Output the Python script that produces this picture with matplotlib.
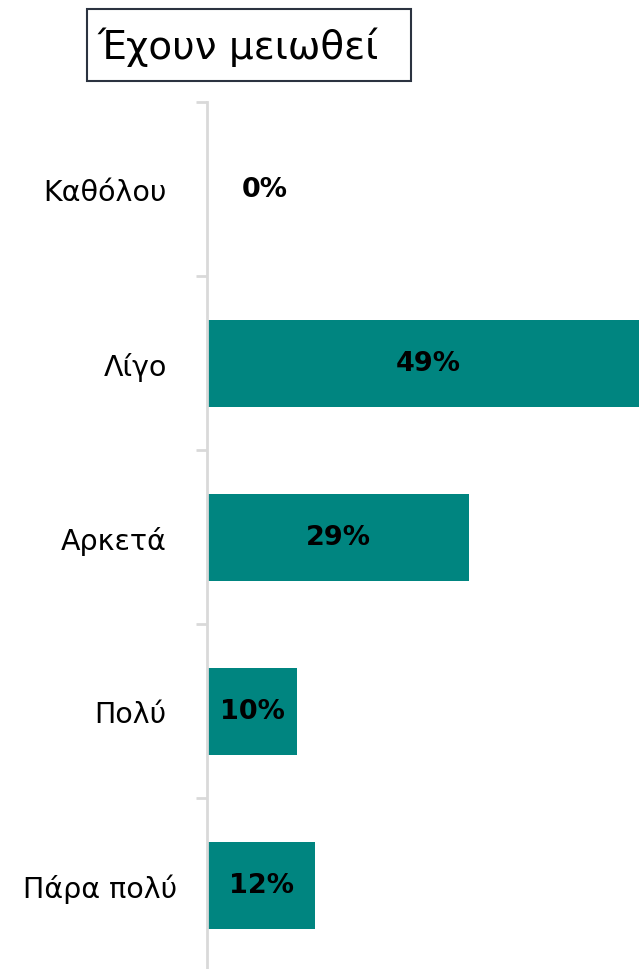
import matplotlib.pyplot as plt
from matplotlib.patches import Rectangle
from matplotlib.transforms import ScaledTranslation
import numpy as np

# dữ liệu
categories = ['Καθόλου', 'Λίγο', 'Αρκετά', 'Πολύ', 'Πάρα πολύ']
values = [0, 49, 29, 10, 12]
value_labels = ['0%', '49%', '29%', '10%', '12%']
title = 'Έχουν μειωθεί'

plt.rcParams['font.family'] = ['DejaVu Sans']

fig = plt.figure(figsize=(6.39, 9.70), dpi=100)
ax = fig.add_axes([207 / 639, -3 / 970, 432 / 639, 870 / 970])

y = np.arange(len(categories))
ax.barh(y, values, height=0.5, color='#008580')
ax.set_ylim(len(categories) - 0.5, -0.5)
ax.set_xlim(0, 47.8)

for i, (v, lab) in enumerate(zip(values, value_labels)):
    xpos = v / 2 if v > 0 else 6.4
    ax.text(xpos, i, lab, ha='center', va='center', fontsize=19.5,
            fontweight='bold', color='black')

# trục
for s in ['top', 'right', 'bottom']:
    ax.spines[s].set_visible(False)
ax.spines['left'].set_color('#D9D9D9')
ax.spines['left'].set_linewidth(2)
ax.set_xticks([])
ax.set_yticks(y)
ax.set_yticklabels(categories, fontsize=20.5)
ax.tick_params(axis='y', which='major', length=0, pad=29)
ax.set_yticks(np.arange(-0.5, len(categories)), minor=True)
ax.tick_params(axis='y', which='minor', length=8, width=2, color='#D9D9D9')

# nhãn cuối lệch phải một chút như bản gốc
last = ax.get_yticklabels()[-1]
last.set_transform(last.get_transform() + ScaledTranslation(0.1, 0, fig.dpi_scale_trans))

# tiêu đề trong khung
fig.patches.append(Rectangle((87 / 639, 1 - 82 / 970), 324 / 639, 72 / 970,
                             transform=fig.transFigure, facecolor='white',
                             edgecolor='#2B3340', linewidth=1.5))
fig.text(97 / 639, 1 - 47 / 970, title, ha='left', va='center', fontsize=28)

fig.savefig('out.png', dpi=100)
